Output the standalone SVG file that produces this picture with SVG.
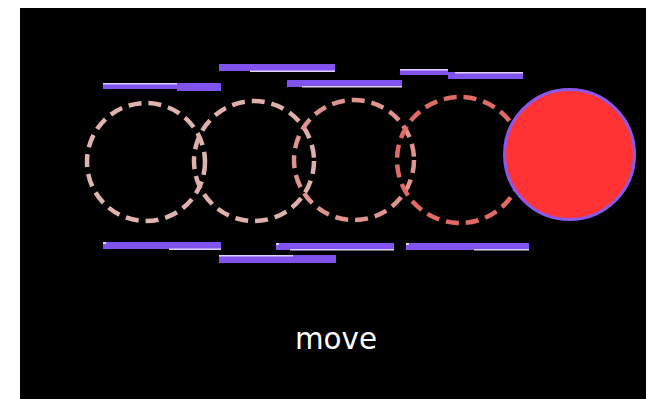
<svg xmlns="http://www.w3.org/2000/svg" width="654" height="399" viewBox="0 0 654 399">
<style>
.ring{fill:none;stroke-width:4.5;stroke-dasharray:13 7}
.bar{fill:#8052ee}
.hl{fill:#ddd0ff}
.lbl{font-family:"DejaVu Sans Condensed","DejaVu Sans","Liberation Sans",sans-serif;font-stretch:condensed;font-size:31px;fill:#ffffff;text-anchor:middle}
</style>
<rect x="0" y="0" width="654" height="399" fill="#ffffff"/>
<rect x="20" y="8" width="626" height="391" fill="#000000"/>
<g id="trail">
<circle id="ghost1" class="ring" cx="146" cy="162" r="59" stroke="#dfb3ae"/>
<circle id="ghost2" class="ring" cx="254" cy="161" r="60" stroke="#dfb0ab"/>
<circle id="ghost3" class="ring" cx="354" cy="160" r="60" stroke="#e0948e"/>
<circle id="ghost4" class="ring" cx="460" cy="160" r="63" stroke="#e26a66"/>
</g>
<g id="ball">
<circle cx="569.5" cy="154.5" r="65" fill="#ff3333" stroke="#8a58ee" stroke-width="3"/>
</g>
<g id="speed-lines">
<g id="bar1"><rect class="bar" x="103" y="83" width="118" height="6"/><rect class="bar" x="177" y="85" width="44" height="6"/><rect class="hl" x="103" y="83" width="74" height="1.5"/></g>
<g id="bar2"><rect class="bar" x="219" y="64" width="116" height="7"/><rect class="hl" x="250" y="70.5" width="85" height="1.5"/></g>
<g id="bar3"><rect class="bar" x="287" y="80" width="115" height="7"/><rect class="hl" x="302" y="86" width="100" height="1.5"/></g>
<g id="bar4"><rect class="bar" x="400" y="69" width="48" height="6"/><rect class="bar" x="448" y="72" width="75" height="7"/><rect class="hl" x="400" y="69" width="48" height="1.5"/><rect class="hl" x="455" y="72" width="68" height="1.5"/></g>
<g id="bar5"><rect class="bar" x="103" y="242" width="118" height="7"/><rect class="hl" x="169" y="248.5" width="52" height="1.5"/><rect class="hl" x="103" y="242" width="3" height="2"/></g>
<g id="bar6"><rect class="bar" x="219" y="255" width="117" height="8"/><rect class="hl" x="219" y="255" width="74" height="1.5"/></g>
<g id="bar7"><rect class="bar" x="276" y="243" width="118" height="7"/><rect class="hl" x="290" y="249" width="104" height="1.5"/><rect class="hl" x="276" y="243" width="3" height="2"/></g>
<g id="bar8"><rect class="bar" x="406" y="243" width="123" height="7"/><rect class="hl" x="474" y="249" width="55" height="1.5"/><rect class="hl" x="406" y="243" width="3" height="2"/></g>
</g>
<g id="caption"><text class="lbl" x="336" y="349" textLength="82" lengthAdjust="spacingAndGlyphs">move</text></g>
</svg>
